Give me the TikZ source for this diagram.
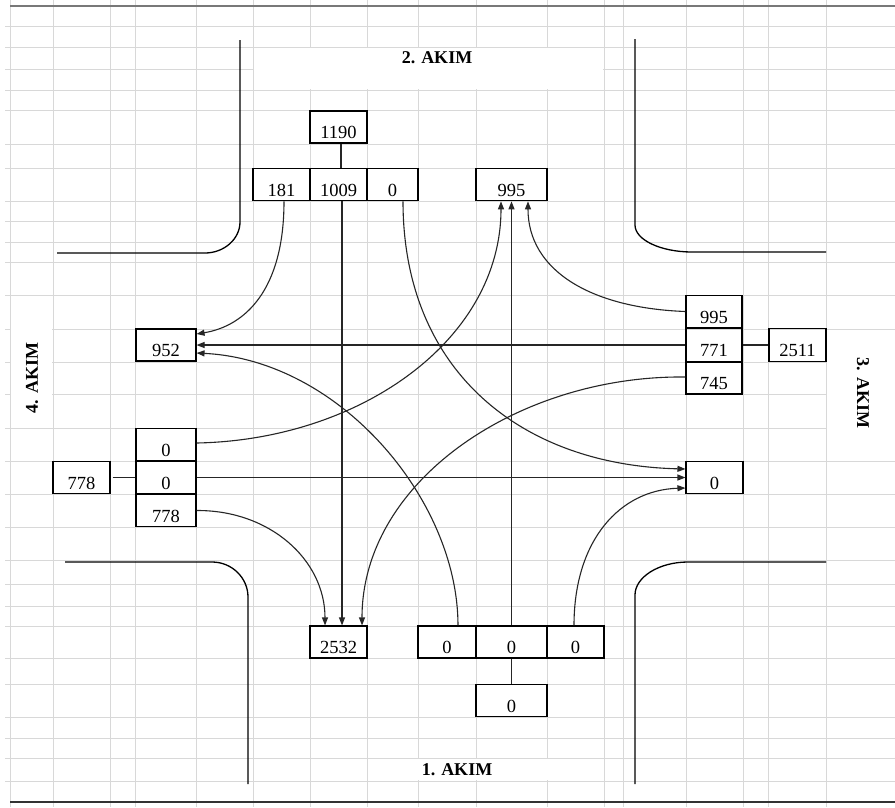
\documentclass[tikz,border=0pt]{standalone}
\usepackage{fontspec}
\setmainfont{Liberation Serif}
\usetikzlibrary{arrows.meta}
\definecolor{gridc}{RGB}{216,216,216}
\definecolor{edgec}{RGB}{120,120,120}
\tikzset{
  cell/.style={draw=black, line width=1.1pt, inner sep=0pt, text height=28pt, text depth=4.5pt,
    font=\fontsize{18.5}{20}\selectfont},
  road/.style={draw=black, line width=1.3pt},
  flow/.style={draw=black!85, line width=1.1pt, -{Triangle[length=8pt,width=6pt]}},
  link/.style={draw=black!85, line width=1.1pt},
  akim/.style={font=\bfseries\fontsize{18}{20}\selectfont, inner sep=0pt},
  gridl/.style={draw=gridc, line width=1pt}
}
\begin{document}
\begin{tikzpicture}[x=1pt,y=-1pt]
\useasboundingbox (0,0) rectangle (895,807);
\fill[white] (0,0) rectangle (895,807);
% spreadsheet grid
\foreach \gx in {10,53,110,135,196,253,310,367,418,476,547,604,623,686,743,768,826}
  \draw[gridl] (\gx,0) -- (\gx,807);
\foreach \gy in {26,47,69,90,110,144,168,201,221,242,262,295,329,362,394,428,461,494,527,560,584,606,626,658,684,717,738,758,781}
  \draw[gridl] (5,\gy) -- (895,\gy);
\draw[draw=edgec, line width=2pt] (10,6) -- (895,6);
\draw[draw=black!80, line width=1.5pt] (10,802) -- (895,802);
% white label areas
\fill[white] (254,48) rectangle (603,89);
\fill[white] (368,759) rectangle (603,780);
\fill[white] (11,296) rectangle (52,427);
\fill[white] (827,330) rectangle (895,460);
% roads
\draw[road] (240,40) -- (240,222) .. controls (240,239) and (224,253) .. (205,253) -- (57,253);
\draw[road] (635,39) -- (635,225) .. controls (635,240) and (661,252) .. (692,252) -- (826,252);
\draw[road] (65,562) -- (212,562) .. controls (232,562) and (248,578) .. (248,597) -- (248,784);
\draw[road] (826,562) -- (688,562) .. controls (659,562) and (635,577) .. (635,595) -- (635,784);
% labels
\node[akim] (k2) at (437,58) {2. AKIM};
\node[akim] (k1) at (457,770) {1. AKIM};
\node[akim, rotate=90] (k4) at (32,378) {4. AKIM};
\node[akim, rotate=-90] (k3) at (863,393) {3. AKIM};
% top group
\node[cell, minimum width=57pt, text height=27.5pt] (a1190) at (338.5,127) {1190};
\node[cell, minimum width=57pt] (t181) at (281.5,184.5) {181};
\node[cell, minimum width=57pt] (t1009) at (338.5,184.5) {1009};
\node[cell, minimum width=51pt] (t0) at (392.5,184.5) {0};
\node[cell, minimum width=71pt] (t995) at (511.5,184.5) {995};
% left group
\node[cell, minimum width=60pt, text height=27.5pt] (l952) at (166,345) {952};
\node[cell, minimum width=60pt] (lT) at (166,444.5) {0};
\node[cell, minimum width=60pt] (lM) at (166,477.5) {0};
\node[cell, minimum width=60pt] (lB) at (166,510.5) {778};
\node[cell, minimum width=57pt] (l778) at (81.5,477.5) {778};
% right group
\node[cell, minimum width=56pt] (r995) at (714,311.5) {995};
\node[cell, minimum width=56pt] (r771) at (714,345) {771};
\node[cell, minimum width=56pt, text height=27.5pt] (r745) at (714,378) {745};
\node[cell, minimum width=57pt] (r2511) at (797.5,345) {2511};
\node[cell, minimum width=57pt] (r0) at (714.5,477.5) {0};
% bottom group
\node[cell, minimum width=57pt, text height=27.5pt] (b2532) at (338.5,642) {2532};
\node[cell, minimum width=58pt, text height=27.5pt] (bL) at (447,642) {0};
\node[cell, minimum width=71pt, text height=27.5pt] (bM) at (511.5,642) {0};
\node[cell, minimum width=57pt, text height=27.5pt] (bR) at (575.5,642) {0};
\node[cell, minimum width=71pt] (b0) at (511.5,700.5) {0};
% totals links
\draw[link] ([xshift=2.5pt]a1190.south) -- ([xshift=2.5pt]t1009.north);
\draw[link] ([xshift=2pt]l778.east) -- (lM.west);
\draw[link] (r771.east) -- (r2511.west);
\draw[link] (bM.south) -- (b0.north);
% flows
\draw[flow] ([xshift=2.5pt]t181.south) .. controls (284,290) and (245,326) .. ([yshift=11pt]l952.east);
\draw[flow] ([xshift=3.5pt]t1009.south) -- ([xshift=3.5pt]b2532.north);
\draw[flow] ([xshift=10.5pt]t0.south) .. controls (403,370) and (520,465) .. ([yshift=8.5pt]r0.west);
\draw[flow] ([yshift=1.5pt]lT.east) .. controls (360,440) and (501,340) .. ([xshift=-10.5pt]t995.south);
\draw[flow] (bM.north) -- (t995.south);
\draw[flow] (r995.west) .. controls (590,308) and (528,270) .. ([xshift=16.5pt]t995.south);
\draw[flow] (r771.west) -- (l952.east);
\draw[flow] ([xshift=11pt]bL.north) .. controls (458,500) and (340,360) .. ([yshift=-8pt]l952.east);
\draw[flow] (lM.east) -- (r0.west);
\draw[flow] ([xshift=-1.5pt]bR.north) .. controls (574,540) and (620,490) .. ([yshift=-10.5pt]r0.west);
\draw[flow] (lB.east) .. controls (270,510) and (325,560) .. ([xshift=-13.5pt]b2532.north);
\draw[flow] ([yshift=1pt]r745.west) .. controls (520,375) and (362,480) .. ([xshift=23.5pt]b2532.north);
\end{tikzpicture}
\end{document}
